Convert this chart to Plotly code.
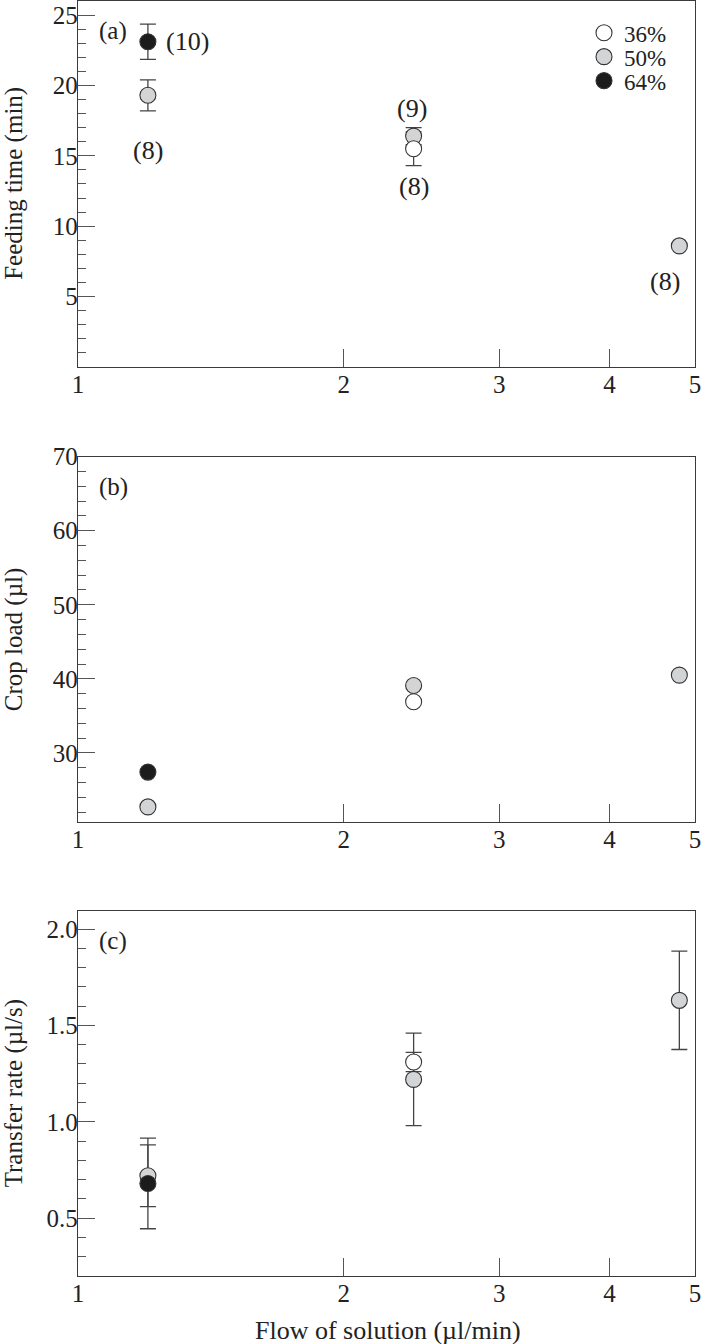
import numpy as np
import plotly.graph_objects as go


#################################################################### DATA ####################################################################

flow = [1.2, 2.4, 4.8]                      # flow of solution (ul/min)
series = ["36%", "50%", "64%"]

# feeding time (min)
feed_36 = [None, 15.5, None]
feed_50 = [19.3, 16.4, 8.6]
feed_64 = [23.1, None, None]
feed_36_err = [None, 1.2, None]
feed_50_err = [1.1, 0.6, None]
feed_64_err = [1.25, None, None]

# crop load (ul)
crop_36 = [None, 36.9, None]
crop_50 = [22.7, 39.1, 40.5]
crop_64 = [27.4, None, None]

# transfer rate (ul/s)
rate_36 = [None, 1.31, None]
rate_50 = [0.72, 1.22, 1.63]
rate_64 = [0.68, None, None]
rate_36_err = [None, 0.05, None]
rate_50_err = [0.16, 0.24, 0.255]
rate_64_err = [0.235, None, None]

# sample sizes shown in panel (a)
n_labels = ["(10)", "(8)", "(9)", "(8)", "(8)"]

x_ticks = [1, 2, 3, 4, 5]


#################################################################### STYLE ####################################################################

FONT = "Liberation Serif"
TEXT = "#222222"
LINE = "#3a3a3a"
TICK = "#555555"
fills = {"36%": "#ffffff", "50%": "#d3d4d5", "64%": "#1c1c1c"}
legends = {"36%": "legend", "50%": "legend2", "64%": "legend3"}

panels = [
    ("x", "y", {"36%": feed_36, "50%": feed_50, "64%": feed_64},
     {"36%": feed_36_err, "50%": feed_50_err, "64%": feed_64_err}),
    ("x2", "y2", {"36%": crop_36, "50%": crop_50, "64%": crop_64}, None),
    ("x3", "y3", {"36%": rate_36, "50%": rate_50, "64%": rate_64},
     {"36%": rate_36_err, "50%": rate_50_err, "64%": rate_64_err}),
]

draw_order = ["50%", "36%", "64%"]

fig = go.Figure()

# error bars first so that every marker sits on top of them
for xa, ya, vals, errs in panels:
    if errs is None:
        continue
    for s in draw_order:
        fig.add_trace(go.Scatter(
            x=flow, y=vals[s], xaxis=xa, yaxis=ya, mode="markers",
            marker=dict(size=1, color="rgba(0,0,0,0)"),
            error_y=dict(type="data", array=errs[s], visible=True,
                         color="#444444", thickness=1.3, width=8),
            showlegend=False, hoverinfo="skip"))

for i, (xa, ya, vals, errs) in enumerate(panels):
    for s in draw_order:
        fig.add_trace(go.Scatter(
            x=flow, y=vals[s], xaxis=xa, yaxis=ya, mode="markers", name=s,
            marker=dict(size=16, color=fills[s], line=dict(width=1.1, color="#333333")),
            showlegend=(i == 0), legend=legends[s]))

# panel domains (paper fractions)
y_domains = [[0.7132, 1.0], [0.3563, 0.6426], [0.0, 0.2865]]
y_ranges = [[0.02, 26], [20.7, 70], [0.2, 2.095]]
y_major = [5, 10, 0.5]
y_minor = [1, 2, 0.1]
y_format = ["d", "d", ".1f"]

axis_font = dict(family=FONT, size=25, color=TEXT)

for k in range(3):
    sfx = "" if k == 0 else str(k + 1)
    fig.update_layout(**{
        "xaxis" + sfx: dict(
            domain=[0, 1], anchor="y" + sfx, type="log",
            range=[0, np.log10(5)],
            tickmode="array", tickvals=x_ticks, ticktext=[str(v) for v in x_ticks],
            ticks="inside", ticklen=18, tickwidth=1.2, tickcolor=TICK,
            showline=True, linecolor=LINE, linewidth=1.3, mirror=True,
            showgrid=False, zeroline=False, tickfont=axis_font,
            ticklabelstandoff=-5),
        "yaxis" + sfx: dict(
            domain=y_domains[k], anchor="x" + sfx,
            range=y_ranges[k], dtick=y_major[k], tick0=0, tickformat=y_format[k],
            ticks="inside", ticklen=17, tickwidth=1.2, tickcolor=TICK,
            minor=dict(ticks="inside", ticklen=8, dtick=y_minor[k], tick0=0,
                       tickcolor=TICK, tickwidth=1.1, showgrid=False),
            showline=True, linecolor=LINE, linewidth=1.3, mirror=True,
            showgrid=False, zeroline=False, tickfont=axis_font,
            ticklabelstandoff=-6),
    })

# axis titles
y_titles = ["Feeding time (min)", "Crop load (\u00b5l)", "Transfer rate (\u00b5l/s)"]
annotations = []
for k, t in enumerate(y_titles):
    annotations.append(dict(
        text=t, xref="paper", yref="paper", x=-0.1037,
        y=sum(y_domains[k]) / 2, xanchor="center", yanchor="middle",
        textangle=-90, showarrow=False, font=dict(family=FONT, size=25, color=TEXT)))
annotations.append(dict(
    text="Flow of solution (\u00b5l/min)", xref="paper", yref="paper",
    x=0.5024, y=-0.0431, xanchor="center", yanchor="middle",
    showarrow=False, font=dict(family=FONT, size=26, color=TEXT)))

# panel letters
for k, letter in enumerate(["(a)", "(b)", "(c)"]):
    sfx = "" if k == 0 else str(k + 1)
    annotations.append(dict(
        text=letter, xref="x" + sfx + " domain", yref="y" + sfx + " domain",
        x=0.031, y=0.918, xanchor="left", yanchor="middle",
        showarrow=False, font=dict(family=FONT, size=25, color=TEXT)))

# sample sizes in panel (a)
n_pos = [
    (np.log10(flow[0]), 23.1, "left", 16),
    (np.log10(flow[0]), 15.35, "center", 0),
    (np.log10(flow[1]), 18.35, "center", -2),
    (np.log10(flow[1]), 12.85, "center", 0),
    (np.log10(flow[2]), 6.1, "center", -14),
]
for lab, (xv, yv, anc, shift) in zip(n_labels, n_pos):
    annotations.append(dict(
        text=lab, xref="x", yref="y", x=xv, y=yv, xanchor=anc, yanchor="middle",
        xshift=shift, showarrow=False, font=dict(family=FONT, size=26, color=TEXT)))

legend_style = dict(xref="paper", yref="paper", x=0.8201, xanchor="left",
                    yanchor="middle", bgcolor="rgba(0,0,0,0)", borderwidth=0,
                    font=dict(family=FONT, size=23, color=TEXT))

fig.update_layout(
    width=703, height=1344,
    margin=dict(l=78, r=8, t=1, b=68, autoexpand=False),
    paper_bgcolor="white", plot_bgcolor="white",
    font=dict(family=FONT, color=TEXT),
    annotations=annotations,
    legend=dict(y=0.9751, **legend_style),
    legend2=dict(y=0.9563, **legend_style),
    legend3=dict(y=0.9375, **legend_style),
)

# the page body keeps its default 8px margin otherwise
fig.write_html("out.html", config={"displayModeBar": False},
               post_script="document.body.style.margin = '0';")
